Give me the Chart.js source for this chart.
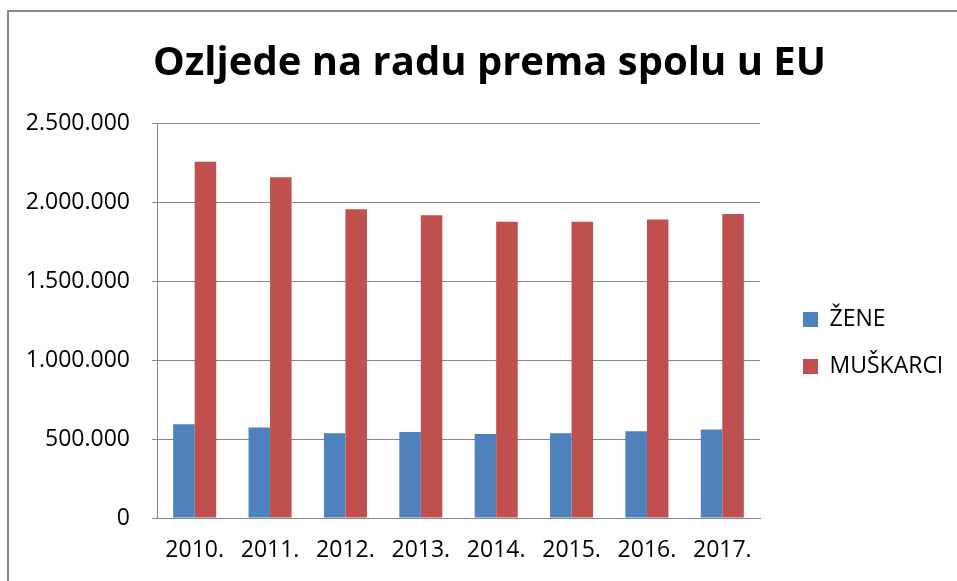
<!DOCTYPE html>
<html>
<head>
<meta charset="utf-8">
<script src="https://cdn.jsdelivr.net/npm/chart.js@4"></script>
<style>
  html, body { margin: 0; padding: 0; background: #fff; }
  #wrap { position: relative; width: 957px; height: 581px; }
  #frame { position: absolute; left: 7px; top: 10px; right: -4px; bottom: -4px;
           border: 2px solid #898989; pointer-events: none; }
</style>
</head>
<body>
<div id="wrap">
  <canvas id="grafikon" width="957" height="581"></canvas>
  <div id="frame"></div>
</div>
<script>
var godine = ['2010.', '2011.', '2012.', '2013.', '2014.', '2015.', '2016.', '2017.'];
var zene = [594000, 573000, 536000, 545000, 532000, 536000, 549000, 560000];
var muskarci = [2255000, 2156000, 1954000, 1916000, 1875000, 1875000, 1890000, 1924000];
var yOznake = [0, 500000, 1000000, 1500000, 2000000, 2500000];

function tocke(v) {
  return String(v).replace(/\B(?=(\d{3})+(?!\d))/g, '.');
}

var font = 'Open Sans';
var siva = '#868686';

// legenda je uža od teksta pa joj širinu zadajemo sami
var sirinaLegende = {
  id: 'sirinaLegende',
  afterInit: function (chart) {
    var lg = chart.legend;
    var fit = lg.fit;
    lg.fit = function () {
      fit.call(this);
      this.width = 178;
    };
  }
};

var ctx = document.getElementById('grafikon').getContext('2d');
var grafikon = new Chart(ctx, {
  type: 'bar',
  data: {
    labels: godine,
    datasets: [
      { label: 'ŽENE', data: zene, backgroundColor: '#4F81BD' },
      { label: 'MUŠKARCI', data: muskarci, backgroundColor: '#C0504D' }
    ]
  },
  plugins: [sirinaLegende],
  options: {
    responsive: false,
    animation: false,
    layout: { padding: { left: 22, right: 0, top: 0, bottom: 0 } },
    datasets: { bar: { categoryPercentage: 0.571, barPercentage: 1 } },
    plugins: {
      title: {
        display: true,
        text: 'Ozljede na radu prema spolu u EU',
        color: '#000',
        font: { family: font, size: 40, weight: 'bold' },
        padding: { top: 40, bottom: 35 }
      },
      legend: {
        position: 'right',
        align: 'center',
        title: { display: true, text: '', font: { size: 0 }, padding: { top: 105, bottom: 0 } },
        labels: {
          boxWidth: 15,
          boxHeight: 15,
          padding: 24,
          color: '#000',
          font: { family: font, size: 23 }
        }
      },
      tooltip: { enabled: false }
    },
    scales: {
      x: {
        afterFit: function (s) { s.height = 63; },
        grid: { display: false, drawTicks: false },
        border: { display: true, color: siva, width: 1 },
        ticks: { color: '#000', padding: 19, font: { family: font, size: 23 } }
      },
      y: {
        min: 0,
        max: 2500000,
        afterBuildTicks: function (s) { s.ticks = yOznake.map(function (v) { return { value: v }; }); },
        afterFit: function (s) { s.width = 135; },
        grid: { color: siva, lineWidth: 1, tickLength: 5 },
        border: { display: true, color: siva, width: 1 },
        ticks: {
          color: '#000',
          padding: 22,
          font: { family: font, size: 23 },
          callback: function (v) { return tocke(v); }
        }
      },
      razmak: {
        position: 'right',
        display: true,
        grid: { display: false },
        border: { display: false },
        ticks: { display: false },
        afterFit: function (s) { s.width = 19; }
      }
    }
  }
});
</script>
</body>
</html>
